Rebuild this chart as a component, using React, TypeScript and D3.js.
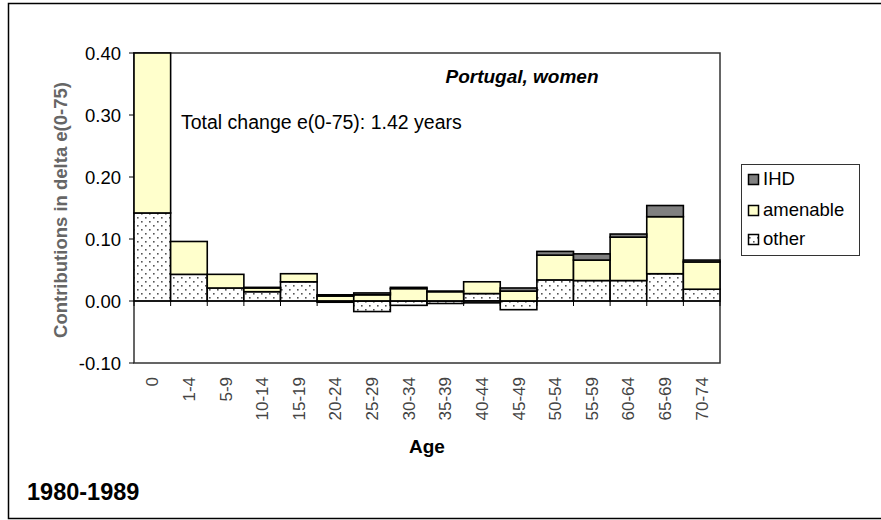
import React, { useEffect, useRef } from 'react';
import * as d3 from 'd3';

// age groups
const ages = ['0', '1-4', '5-9', '10-14', '15-19', '20-24', '25-29', '30-34', '35-39', '40-44', '45-49', '50-54', '55-59', '60-64', '65-69', '70-74'];
// contributions to change in e(0-75), years
const other = [0.142, 0.043, 0.021, 0.015, 0.031, -0.002, -0.017, -0.007, -0.004, 0.012, -0.014, 0.034, 0.033, 0.033, 0.044, 0.019];
const amenable = [0.258, 0.053, 0.022, 0.006, 0.013, 0.008, 0.010, 0.020, 0.015, 0.019, 0.016, 0.040, 0.033, 0.070, 0.092, 0.044];
const ihd = [0, 0, 0, 0.001, 0, 0.002, 0.003, 0.002, 0.001, -0.003, 0.005, 0.006, 0.010, 0.005, 0.018, 0.003];
const yTicks = [-0.1, 0, 0.1, 0.2, 0.3, 0.4];
const seriesNames = ['other', 'amenable', 'IHD'];

const W = 881;
const H = 520;
const plot = { left: 134, right: 720, top: 53, bottom: 363 };
const FONT = 'Arial, "Liberation Sans", sans-serif';

export default function App() {
  const svgRef = useRef<SVGSVGElement>(null);

  useEffect(() => {
    const svg = d3.select(svgRef.current);
    svg.selectAll('*').remove();

    const defs = svg.append('defs');
    const pat = defs.append('pattern')
      .attr('id', 'dots')
      .attr('patternUnits', 'userSpaceOnUse')
      .attr('width', 8).attr('height', 8);
    pat.append('rect').attr('width', 8).attr('height', 8).attr('fill', '#fff');
    pat.append('rect').attr('x', 1).attr('y', 1).attr('width', 1.6).attr('height', 1.6).attr('fill', '#555');
    pat.append('rect').attr('x', 5).attr('y', 5).attr('width', 1.6).attr('height', 1.6).attr('fill', '#555');

    // outer frame (right edge falls outside the picture)
    svg.append('path')
      .attr('d', `M${W + 5},3.5 H8.5 V518.5 H${W + 5}`)
      .attr('fill', 'none').attr('stroke', '#000').attr('stroke-width', 1.5);

    const x = d3.scaleBand().domain(ages).range([plot.left, plot.right]).padding(0);
    const y = d3.scaleLinear().domain([-0.1, 0.4]).range([plot.bottom, plot.top]);

    const fills: Record<string, string> = { other: 'url(#dots)', amenable: '#FFFFCC', IHD: '#808080' };

    const rows = ages.map((a, i) => ({ age: a, other: other[i], amenable: amenable[i], IHD: ihd[i] }));
    const stack = d3.stack<any>().keys(seriesNames).offset(d3.stackOffsetDiverging);
    const layers = stack(rows);

    // plot area border
    svg.append('rect')
      .attr('x', plot.left).attr('y', plot.top)
      .attr('width', plot.right - plot.left).attr('height', plot.bottom - plot.top)
      .attr('fill', '#fff').attr('stroke', '#333').attr('stroke-width', 1.5);

    const g = svg.append('g');
    layers.forEach(layer => {
      g.append('g').selectAll('rect')
        .data(layer)
        .join('rect')
        .attr('x', d => x(d.data.age)!)
        .attr('width', x.bandwidth())
        .attr('y', d => y(Math.max(d[0], d[1])))
        .attr('height', d => Math.abs(y(d[0]) - y(d[1])))
        .attr('fill', fills[layer.key])
        .attr('stroke', '#000')
        .attr('stroke-width', 1.6);
    });

    // zero line
    svg.append('line')
      .attr('x1', plot.left).attr('x2', plot.right)
      .attr('y1', y(0)).attr('y2', y(0))
      .attr('stroke', '#000').attr('stroke-width', 1.2);

    // category ticks on the zero line
    const edges = ages.map(a => x(a)!).concat([plot.right]);
    svg.append('g').selectAll('line')
      .data(edges)
      .join('line')
      .attr('x1', d => d).attr('x2', d => d)
      .attr('y1', y(0)).attr('y2', y(0) + 5)
      .attr('stroke', '#000').attr('stroke-width', 1);

    // y axis
    svg.append('g').selectAll('line')
      .data(yTicks)
      .join('line')
      .attr('x1', plot.left - 5).attr('x2', plot.left)
      .attr('y1', d => y(d)).attr('y2', d => y(d))
      .attr('stroke', '#000');
    svg.append('g').selectAll('text')
      .data(yTicks)
      .join('text')
      .attr('x', plot.left - 13)
      .attr('y', d => y(d) + 6.5)
      .attr('text-anchor', 'end')
      .attr('font-family', FONT)
      .attr('font-size', 18.5)
      .text(d => d.toFixed(2));

    svg.append('text')
      .attr('transform', `translate(67,210) rotate(-90)`)
      .attr('text-anchor', 'middle')
      .attr('font-family', FONT)
      .attr('font-size', 18.5)
      .attr('font-weight', 'bold')
      .attr('fill', '#666')
      .text('Contributions in delta e(0-75)');

    // x labels
    svg.append('g').selectAll('text')
      .data(ages)
      .join('text')
      .attr('transform', a => `translate(${x(a)! + x.bandwidth() / 2 + 6},377) rotate(-90)`)
      .attr('text-anchor', 'end')
      .attr('font-family', FONT)
      .attr('font-size', 17)
      .attr('fill', '#444')
      .text(a => a);

    svg.append('text')
      .attr('x', (plot.left + plot.right) / 2).attr('y', 453)
      .attr('text-anchor', 'middle')
      .attr('font-family', FONT)
      .attr('font-size', 19).attr('font-weight', 'bold')
      .text('Age');

    svg.append('text')
      .attr('x', 522).attr('y', 83)
      .attr('text-anchor', 'middle')
      .attr('font-family', FONT)
      .attr('font-size', 19).attr('font-weight', 'bold').attr('font-style', 'italic')
      .text('Portugal, women');

    svg.append('text')
      .attr('x', 181).attr('y', 129)
      .attr('font-family', FONT)
      .attr('font-size', 19.5)
      .text('Total change e(0-75): 1.42 years');

    svg.append('text')
      .attr('x', 27).attr('y', 500)
      .attr('font-family', FONT)
      .attr('font-size', 23.5).attr('font-weight', 'bold')
      .text('1980-1989');

    // legend
    const lg = svg.append('g');
    lg.append('rect')
      .attr('x', 741.5).attr('y', 164.5).attr('width', 118).attr('height', 91)
      .attr('fill', '#fff').attr('stroke', '#333').attr('stroke-width', 1);
    const legendItems = ['IHD', 'amenable', 'other'];
    const legendBase = [185, 216, 245];
    legendItems.forEach((k, i) => {
      const by = legendBase[i];
      lg.append('rect')
        .attr('x', 748.5).attr('y', by - 10.5).attr('width', 10).attr('height', 10)
        .attr('fill', fills[k]).attr('stroke', '#000').attr('stroke-width', 1.5);
      lg.append('text')
        .attr('x', 763).attr('y', by)
        .attr('font-family', FONT)
        .attr('font-size', 18.5)
        .text(k);
    });
  }, []);

  return (
    <svg ref={svgRef} width={W} height={H}
      style={{ position: 'absolute', left: 0, top: 0, background: '#fff' }} />
  );
}
